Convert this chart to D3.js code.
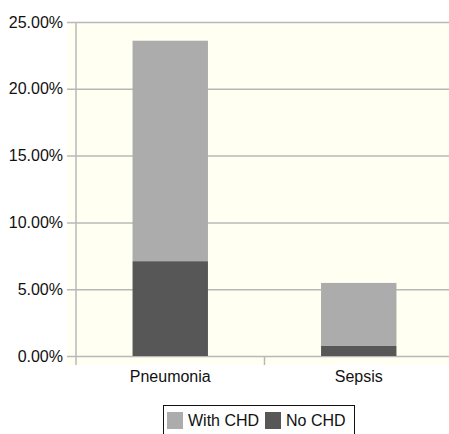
<!DOCTYPE html>
<html>
<head>
<meta charset="utf-8">
<script src="https://cdn.jsdelivr.net/npm/d3@7"></script>
<style>
  body { margin: 0; background: #fff; }
  text { font-family: "Liberation Sans", Arial, sans-serif; fill: #111; }
</style>
</head>
<body>
<svg id="chart" width="449" height="434"></svg>
<script>
const categories = ["Pneumonia", "Sepsis"];
const noCHD = [7.1, 0.75];
const withCHD = [16.5, 4.72];
const yTicks = [0, 5, 10, 15, 20, 25];
const seriesNames = ["With CHD", "No CHD"];

const svg = d3.select("#chart");
const margin = { left: 76, right: -4, top: 22, bottom: 78 };
const width = +svg.attr("width");
const height = +svg.attr("height");

const x = d3.scaleBand()
    .domain(categories)
    .range([margin.left, width - margin.right])
    .paddingInner(0.6)
    .paddingOuter(0.3);

const y = d3.scaleLinear()
    .domain([0, 25])
    .range([height - margin.bottom, margin.top]);

const colors = { "With CHD": "#acacac", "No CHD": "#575757" };

// plot background
svg.append("rect")
    .attr("x", margin.left - 9)
    .attr("y", y(25))
    .attr("width", width - margin.left + 9)
    .attr("height", y(0) - y(25) + 9)
    .attr("fill", "#fffff2");

// gridlines + tick labels
const yAxis = d3.axisLeft(y)
    .tickValues(yTicks)
    .tickSize(-(width - margin.left + 20))
    .tickPadding(13)
    .tickFormat(d => d.toFixed(2) + "%");

const gy = svg.append("g")
    .attr("transform", `translate(${margin.left - 9},0)`)
    .call(yAxis);
gy.select(".domain").remove();
gy.selectAll(".tick line").attr("stroke", "#b8b8b8").attr("stroke-width", 1.5);
gy.selectAll(".tick text")
    .attr("x", -4)
    .style("font-size", "16px")
    .style("font-family", "'Liberation Sans', Arial, sans-serif")
    .attr("fill", "#111");

// vertical axis line
svg.append("line")
    .attr("x1", margin.left).attr("x2", margin.left)
    .attr("y1", y(25)).attr("y2", y(0) + 9)
    .attr("stroke", "#b8b8b8").attr("stroke-width", 1.5);

// separator tick between categories
const sep = (x("Pneumonia") + x.bandwidth() + x("Sepsis")) / 2;
svg.append("line")
    .attr("x1", sep).attr("x2", sep)
    .attr("y1", y(0)).attr("y2", y(0) + 9)
    .attr("stroke", "#b8b8b8").attr("stroke-width", 1.5);

// stacked bars
const rows = categories.map((c, i) => ({ cat: c, "No CHD": noCHD[i], "With CHD": withCHD[i] }));
const stack = d3.stack().keys(["No CHD", "With CHD"])(rows);

svg.append("g").selectAll("g")
    .data(stack)
    .join("g")
    .attr("fill", d => colors[d.key])
    .selectAll("rect")
    .data(d => d)
    .join("rect")
    .attr("x", d => x(d.data.cat))
    .attr("width", x.bandwidth())
    .attr("y", d => y(d[1]))
    .attr("height", d => y(d[0]) - y(d[1]));

// category labels
svg.append("g").selectAll("text")
    .data(categories)
    .join("text")
    .attr("x", d => x(d) + x.bandwidth() / 2)
    .attr("y", y(0) + 26)
    .attr("text-anchor", "middle")
    .style("font-size", "16px")
    .text(d => d);

// legend
const legend = svg.append("g");
legend.append("rect")
    .attr("x", 163.5).attr("y", 405.5)
    .attr("width", 191).attr("height", 40)
    .attr("fill", "#fff").attr("stroke", "#111").attr("stroke-width", 1);

const legendX = [167, 265];
seriesNames.forEach((name, i) => {
    legend.append("rect")
        .attr("x", legendX[i]).attr("y", 412)
        .attr("width", 16).attr("height", 17)
        .attr("fill", colors[name]);
    legend.append("text")
        .attr("x", legendX[i] + 21).attr("y", 426)
        .style("font-size", "16px")
        .text(name);
});
</script>
</body>
</html>
